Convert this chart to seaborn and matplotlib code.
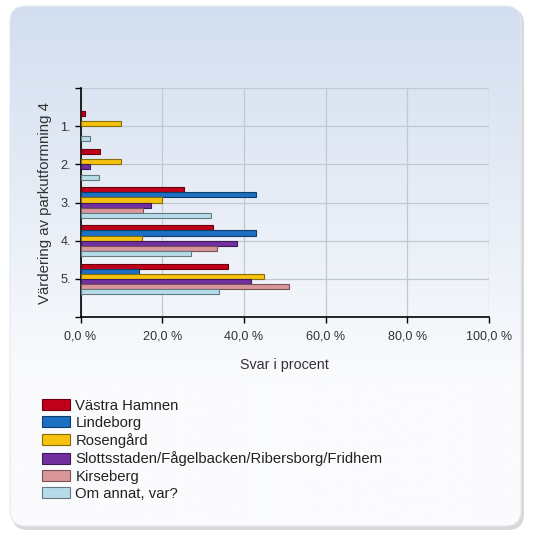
import numpy as np
import pandas as pd
import matplotlib
matplotlib.use("Agg")
import matplotlib.pyplot as plt
import matplotlib.colors as mcolors
from matplotlib.patches import FancyBboxPatch, Patch
import seaborn as sns

# Response shares (%) per rating and district
ratings = ["1.", "2.", "3.", "4.", "5."]
districts = [
    "Västra Hamnen",
    "Lindeborg",
    "Rosengård",
    "Slottsstaden/Fågelbacken/Ribersborg/Fridhem",
    "Kirseberg",
    "Om annat, var?",
]
vastra_hamnen = [1.1, 4.8, 25.3, 32.5, 36.1]
lindeborg = [0.0, 0.0, 42.9, 42.9, 14.3]
rosengard = [10.0, 10.0, 20.0, 15.0, 45.0]
slottsstaden = [0.0, 2.4, 17.2, 38.2, 41.8]
kirseberg = [0.0, 0.0, 15.4, 33.3, 51.1]
om_annat = [2.4, 4.5, 31.9, 27.1, 34.0]
colors = ["#c0001a", "#1c6fc2", "#f6c20e", "#7030a0", "#d9969b", "#b7dce9"]
xticks = [0, 20, 40, 60, 80, 100]
xtick_labels = ["0,0 %", "20,0 %", "40,0 %", "60,0 %", "80,0 %", "100,0 %"]

series = [vastra_hamnen, lindeborg, rosengard, slottsstaden, kirseberg, om_annat]
df = pd.DataFrame(
    [
        {"Betyg": r, "Område": d, "Andel": v}
        for d, vals in zip(districts, series)
        for r, v in zip(ratings, vals)
    ]
)

sns.set_theme(style="white")
plt.rcParams["font.family"] = ["Liberation Sans", "DejaVu Sans"]

W, H = 533, 534
fig = plt.figure(figsize=(W / 100, H / 100), dpi=100)
fig.patch.set_facecolor("white")

# Rounded panel with a soft vertical gradient and a faint shadow
bg = fig.add_axes([0, 0, 1, 1], zorder=-10)
bg.set_xlim(0, W)
bg.set_ylim(H, 0)
bg.axis("off")
shadow = FancyBboxPatch((12, 8), 512, 522, boxstyle="round,pad=0,rounding_size=16",
                        facecolor="#b8b8b8", edgecolor="none", alpha=0.55)
bg.add_patch(shadow)
panel = FancyBboxPatch((10, 6), 511, 520, boxstyle="round,pad=0,rounding_size=16",
                       facecolor="none", edgecolor="#e6e9ee", linewidth=0.8)
bg.add_patch(panel)
top_c = np.array(mcolors.to_rgb("#d2deef"))
bot_c = np.array(mcolors.to_rgb("#fafbfd"))
t = np.clip(np.linspace(0, 1, 400) / 0.72, 0, 1)[:, None]
grad = (top_c * (1 - t) + bot_c * t)[:, None, :]
im = bg.imshow(grad, extent=(10, 521, 526, 6), aspect="auto", zorder=1)
im.set_clip_path(panel)
panel.set_zorder(2)

ax = fig.add_axes([80.5 / W, 1 - 317 / H, (489 - 80.5) / W, (317 - 88) / H])
ax.set_facecolor("none")
sns.barplot(
    data=df, x="Andel", y="Betyg", hue="Område", orient="h",
    hue_order=districts, order=ratings, palette=colors,
    width=0.8, saturation=1, ax=ax, legend=False, zorder=3,
)


def edge_of(color):
    return np.array(mcolors.to_rgb(color)) * 0.55


for patch in ax.patches:
    if patch.get_width() <= 0:
        patch.set_visible(False)
        continue
    patch.set_edgecolor(edge_of(patch.get_facecolor()))
    patch.set_linewidth(0.8)

ax.set_xlim(0, 100)
ax.set_ylim(5, -1)
ax.set_xticks(xticks)
ax.set_xticklabels(xtick_labels, fontsize=9.1, color="#333333")
ax.set_yticks(range(-1, 6))
ax.set_yticklabels([""] + ratings + [""], fontsize=9.1, color="#333333")
ax.tick_params(axis="x", which="major", length=4, width=1, color="black",
               direction="out", bottom=True, pad=6)
ax.tick_params(axis="y", which="major", length=4, width=1, color="black",
               direction="out", left=True, pad=3)
ax.grid(True, color="#c0c8d3", linewidth=0.9, zorder=0)
ax.set_axisbelow(True)
for side in ["top", "right"]:
    ax.spines[side].set_visible(False)
for side in ["left", "bottom"]:
    ax.spines[side].set_color("black")
    ax.spines[side].set_linewidth(1.2)
ax.set_xlabel("Svar i procent", fontsize=10.3, color="#333333", labelpad=11)
ax.set_ylabel("Värdering av parkutformning 4", fontsize=10.8, color="#333333", labelpad=6)

handles = [
    Patch(facecolor=c, edgecolor=edge_of(c), linewidth=0.8, label=d)
    for c, d in zip(colors, districts)
]
fig.legend(
    handles=handles, loc="upper left", bbox_to_anchor=(42 / W, 1 - 398.5 / H),
    frameon=False, fontsize=10.7, handlelength=1.9, handleheight=0.75,
    handletextpad=0.35, labelspacing=0.22, borderaxespad=0, borderpad=0,
    labelcolor="#222222",
)

fig.savefig("out.png", dpi=100, facecolor="white")
